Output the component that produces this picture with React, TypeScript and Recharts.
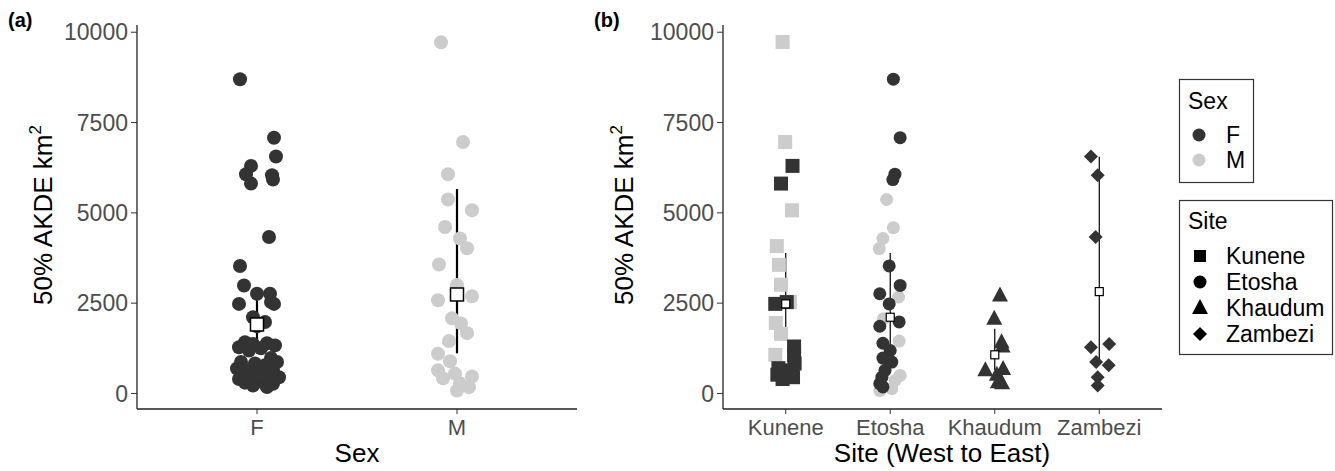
import { ScatterChart, Scatter, XAxis, YAxis, ErrorBar } from "recharts"

const sexLabels = ["F", "M"]
const siteLabels = ["Kunene", "Etosha", "Khaudum", "Zambezi"]
const yTicks = [0, 2500, 5000, 7500, 10000]

// panel (a): [jitter, value]
const sexF: [number, number][] = [
  [-0.085, 8700], [0.085, 7080], [0.095, 6560], [-0.03, 6300], [-0.055, 6070], [0.075, 6040],
  [0.08, 5920], [-0.03, 5810], [0.06, 4330], [-0.085, 3530], [-0.065, 2990], [0.0, 2760],
  [0.065, 2760], [0.07, 2530], [0.085, 2480], [-0.09, 2480], [-0.02, 2110], [0.04, 1980],
  [0.0, 1860], [-0.06, 1420], [0.05, 1390], [-0.02, 1370], [0.09, 1330], [-0.09, 1280],
  [0.02, 1250], [-0.04, 1190], [0.07, 980], [-0.08, 870], [0.1, 870], [-0.01, 830],
  [0.04, 780], [-0.1, 690], [0.08, 640], [-0.05, 640], [0.01, 640], [-0.07, 590],
  [0.11, 450], [-0.03, 450], [0.06, 450], [-0.09, 400], [0.03, 310], [-0.06, 300],
  [0.08, 270], [-0.02, 220], [0.05, 180],
]
const sexM: [number, number][] = [
  [-0.08, 9720], [0.03, 6960], [-0.045, 6070], [-0.045, 5370], [0.075, 5070], [-0.06, 4610],
  [0.015, 4290], [0.05, 4020], [-0.09, 3570], [0.0, 3000], [0.075, 2690], [-0.095, 2580],
  [-0.025, 2080], [0.02, 1940], [0.05, 1670], [-0.04, 1450], [-0.095, 1100], [-0.035, 890],
  [-0.095, 640], [-0.01, 550], [0.075, 470], [-0.07, 420], [0.015, 280], [0.06, 175], [0.0, 80],
]
const sexMean = [1910, 2740]
const sexLow = [1300, 1110]
const sexHigh = [2760, 5660]

// panel (b): [jitter, value]
const kuneneF: [number, number][] = [
  [0.065, 6300], [-0.045, 5810], [-0.1, 2480], [0.01, 2530], [0.08, 1300], [0.08, 1050],
  [0.085, 830], [-0.07, 700], [0.06, 640], [-0.08, 520], [0.07, 450], [-0.03, 400],
]
const kuneneM: [number, number][] = [
  [-0.03, 9730], [-0.005, 6960], [0.06, 5070], [-0.085, 4080], [-0.065, 3560], [-0.045, 3010],
  [0.04, 2530], [-0.095, 1950], [-0.045, 1650], [-0.1, 1070],
]
const etoshaF: [number, number][] = [
  [0.03, 8700], [0.095, 7080], [0.045, 6070], [0.025, 5920], [-0.01, 3530], [0.095, 2990],
  [-0.1, 2760], [-0.01, 2480], [0.085, 1980], [-0.1, 1860], [-0.07, 1390], [0.0, 1190],
  [-0.07, 980], [0.015, 870], [-0.05, 640], [-0.08, 450], [-0.1, 270], [-0.07, 180],
]
const etoshaM: [number, number][] = [
  [-0.035, 5370], [0.03, 4590], [-0.07, 4290], [-0.105, 4010], [0.08, 2670], [-0.065, 2070],
  [0.085, 1450], [0.095, 500], [0.045, 360], [-0.1, 80], [0.015, 130],
]
const khaudumF: [number, number][] = [
  [0.05, 2710], [-0.005, 2070], [0.065, 1420], [0.075, 1300], [-0.09, 640], [0.08, 680],
  [0.02, 520], [0.03, 310], [0.07, 280],
]
const zambeziF: [number, number][] = [
  [-0.08, 6560], [-0.015, 6040], [-0.035, 4330], [-0.08, 1280], [0.095, 1370], [-0.03, 870],
  [0.09, 780], [-0.015, 450], [-0.015, 220],
]
const siteMean = [2480, 2110, 1070, 2820]
const siteLow = [1470, 1000, 640, 870]
const siteHigh = [3890, 3890, 1790, 6550]

const DARK = "#333333"
const LIGHT = "#cccccc"
const FONT = "'Liberation Sans', Arial, Helvetica, sans-serif"

const pts = (cat: number, arr: [number, number][]) => arr.map(([j, v]) => ({ x: cat + j, y: v }))
const means = (m: number[], lo: number[], hi: number[]) =>
  m.map((v, i) => ({ x: i + 1, y: v, err: [v - lo[i], hi[i] - v] }))

const circle = (r: number, fill: string) => (p: any) => <circle cx={p.cx} cy={p.cy} r={r} fill={fill} />
const square = (s: number, fill: string, stroke = "none", sw = 0) => (p: any) => (
  <rect x={p.cx - s / 2} y={p.cy - s / 2} width={s} height={s} fill={fill} stroke={stroke} strokeWidth={sw} />
)
const triangle = (w: number, h: number, fill: string) => (p: any) => (
  <polygon
    points={`${p.cx - w / 2},${p.cy + h * 0.4} ${p.cx + w / 2},${p.cy + h * 0.4} ${p.cx},${p.cy - h * 0.6}`}
    fill={fill}
  />
)
const diamond = (s: number, fill: string) => (p: any) => (
  <polygon
    points={`${p.cx},${p.cy - s / 2} ${p.cx + s / 2},${p.cy} ${p.cx},${p.cy + s / 2} ${p.cx - s / 2},${p.cy}`}
    fill={fill}
  />
)

const tickStyle = { fill: "#4d4d4d", fontSize: 22, fontFamily: FONT }

const yTitle = (bx: number) => () => (
  <text
    x={bx}
    y={215}
    transform={`rotate(-90, ${bx}, 215)`}
    textAnchor="middle"
    fontSize={26}
    fontFamily={FONT}
    fill="#000"
  >
    50% AKDE km<tspan dy={-11} fontSize={17}>2</tspan>
  </text>
)
const xTitle = (cx: number, txt: string) => () => (
  <text x={cx} y={462} textAnchor="middle" fontSize={26} fontFamily={FONT} fill="#000">
    {txt}
  </text>
)

function PanelA() {
  return (
    <ScatterChart width={590} height={471} margin={{ top: 25, right: 13, bottom: 0, left: 0 }}>
      <XAxis
        type="number"
        dataKey="x"
        domain={[0.4, 2.6]}
        ticks={[1, 2]}
        tickFormatter={(v: number) => sexLabels[v - 1]}
        height={62}
        tick={tickStyle}
        tickSize={5}
        tickMargin={5}
        axisLine={{ stroke: "#222", strokeWidth: 1.3 }}
        tickLine={{ stroke: "#333" }}
        allowDataOverflow
        label={xTitle(357, "Sex")}
      />
      <YAxis
        type="number"
        dataKey="y"
        domain={[-430, 10200]}
        ticks={yTicks}
        width={137}
        tick={{ ...tickStyle, fontSize: 23 }}
        tickSize={6}
        tickMargin={3}
        axisLine={{ stroke: "#222", strokeWidth: 1.3 }}
        tickLine={{ stroke: "#333" }}
        allowDataOverflow
        label={yTitle(52)}
      />
      <Scatter data={pts(1, sexF)} shape={circle(7, DARK)} isAnimationActive={false} />
      <Scatter data={pts(2, sexM)} shape={circle(7, LIGHT)} isAnimationActive={false} />
      <Scatter
        data={means(sexMean, sexLow, sexHigh)}
        shape={square(13, "#fff", "#000", 1.5)}
        isAnimationActive={false}
      >
        <ErrorBar dataKey="err" direction="y" width={0} stroke="#000" strokeWidth={2.2} />
      </Scatter>
    </ScatterChart>
  )
}

function PanelB() {
  return (
    <ScatterChart width={745} height={471} margin={{ top: 25, right: 173, bottom: 0, left: 0 }}>
      <XAxis
        type="number"
        dataKey="x"
        domain={[0.4, 4.6]}
        ticks={[1, 2, 3, 4]}
        tickFormatter={(v: number) => siteLabels[v - 1]}
        interval={0}
        height={62}
        tick={tickStyle}
        tickSize={5}
        tickMargin={5}
        axisLine={{ stroke: "#222", strokeWidth: 1.3 }}
        tickLine={{ stroke: "#333" }}
        allowDataOverflow
        label={xTitle(352, "Site (West to East)")}
      />
      <YAxis
        type="number"
        dataKey="y"
        domain={[-430, 10200]}
        ticks={yTicks}
        width={133}
        tick={{ ...tickStyle, fontSize: 23 }}
        tickSize={6}
        tickMargin={3}
        axisLine={{ stroke: "#222", strokeWidth: 1.3 }}
        tickLine={{ stroke: "#333" }}
        allowDataOverflow
        label={yTitle(43)}
      />
      <Scatter data={pts(1, kuneneM)} shape={square(14, LIGHT)} isAnimationActive={false} />
      <Scatter data={pts(1, kuneneF)} shape={square(14, DARK)} isAnimationActive={false} />
      <Scatter data={pts(2, etoshaM)} shape={circle(6.5, LIGHT)} isAnimationActive={false} />
      <Scatter data={pts(2, etoshaF)} shape={circle(6.5, DARK)} isAnimationActive={false} />
      <Scatter data={pts(3, khaudumF)} shape={triangle(16, 15, DARK)} isAnimationActive={false} />
      <Scatter data={pts(4, zambeziF)} shape={diamond(14, DARK)} isAnimationActive={false} />
      <Scatter
        data={means(siteMean, siteLow, siteHigh)}
        shape={square(8, "#fff", "#000", 1.2)}
        isAnimationActive={false}
      >
        <ErrorBar dataKey="err" direction="y" width={0} stroke="#000" strokeWidth={1.2} />
      </Scatter>
    </ScatterChart>
  )
}

const sexKeys = [
  { label: "F", color: DARK },
  { label: "M", color: LIGHT },
]
const siteKeys = ["square", "circle", "triangle", "diamond"]

function Legends() {
  const siteShape = (kind: string, cx: number, cy: number) => {
    if (kind === "square") return square(12, "#000")({ cx, cy })
    if (kind === "circle") return circle(6.5, "#000")({ cx, cy })
    if (kind === "triangle") return triangle(16, 15, "#000")({ cx, cy })
    return diamond(14, "#000")({ cx, cy })
  }
  return (
    <svg width={1335} height={471} style={{ position: "absolute", left: 0, top: 0, pointerEvents: "none" }}>
      <text x={8} y={27} fontSize={20} fontWeight="bold" fontFamily={FONT}>(a)</text>
      <text x={594} y={27} fontSize={20} fontWeight="bold" fontFamily={FONT}>(b)</text>
      <rect x={1179.5} y={79.5} width={74} height={103} fill="#fff" stroke="#333" strokeWidth={1.2} />
      <text x={1188} y={109} fontSize={23} fontFamily={FONT}>Sex</text>
      {sexKeys.map((k, i) => (
        <g key={k.label}>
          <circle cx={1199} cy={135 + i * 25} r={6.5} fill={k.color} />
          <text x={1226} y={135 + i * 25} dy="0.36em" fontSize={23} fontFamily={FONT}>{k.label}</text>
        </g>
      ))}
      <rect x={1179.5} y={200.5} width={153} height={154} fill="#fff" stroke="#333" strokeWidth={1.2} />
      <text x={1188} y={229} fontSize={23} fontFamily={FONT}>Site</text>
      {siteKeys.map((k, i) => (
        <g key={k}>
          {siteShape(k, 1200, 256 + i * 26)}
          <text x={1226} y={256 + i * 26} dy="0.36em" fontSize={23} fontFamily={FONT}>{siteLabels[i]}</text>
        </g>
      ))}
    </svg>
  )
}

export default function App() {
  return (
    <div style={{ position: "absolute", left: 0, top: 0, width: 1335, height: 471, background: "#fff" }}>
      <div style={{ position: "absolute", left: 0, top: 0 }}>
        <PanelA />
      </div>
      <div style={{ position: "absolute", left: 590, top: 0 }}>
        <PanelB />
      </div>
      <Legends />
    </div>
  )
}
